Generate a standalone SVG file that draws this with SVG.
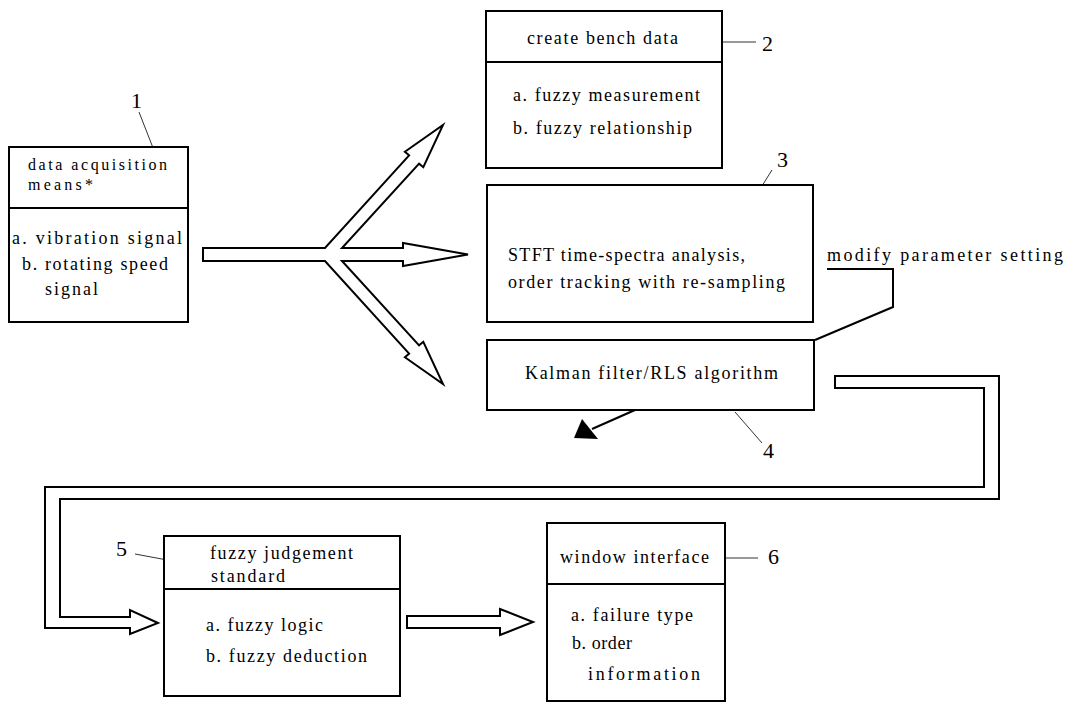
<svg xmlns="http://www.w3.org/2000/svg" width="1068" height="704" viewBox="0 0 1068 704">
<style>
.box{fill:#fff;stroke:#000;stroke-width:2}
.div{stroke:#000;stroke-width:2;fill:none}
.t{font-family:"Liberation Serif",serif;font-size:18px;fill:#000}
.s{font-size:16px}
.num{font-family:"Liberation Serif",serif;font-size:22px;fill:#000}
.lead{stroke:#333;stroke-width:1;fill:none}
.fat{fill:#fff;stroke:#000;stroke-width:2;stroke-linejoin:miter}
.ln{stroke:#000;stroke-width:2;fill:none}
</style>
<rect width="1068" height="704" fill="#fff"/>

<g id="connectors">
<path class="fat" d="M203,248 L325,248 L409.1,155.3 L404.9,151.8 L443,125 L423.3,167.2 L419.1,163.7 L342,248 L403,248 L403,243 L468,254.5 L403,266 L403,261 L342,261 L419.1,345.3 L423.3,341.8 L443,384 L404.9,357.2 L409.1,353.7 L325,261 L203,261 Z"/>
<path class="fat" d="M835,376 L999,376 L999,499 L60,499 L60,617 L130,617 L130,610 L158,623 L130,634 L130,628 L45,628 L45,487 L984,487 L984,388 L835,388 Z"/>
<path class="fat" d="M407,616 L500,616 L500,609 L533,622 L500,635 L500,628 L407,628 Z"/>
<polyline class="ln" points="827,269 893,269 893,307 815,340"/>
<line class="ln" x1="635" y1="410" x2="592" y2="429"/>
<path d="M574,438 L582,419 L598,439 Z" fill="#000"/>
<line class="lead" x1="139" y1="112" x2="155" y2="153"/>
<line class="lead" x1="712" y1="42" x2="756" y2="42"/>
<line class="lead" x1="772" y1="170" x2="750" y2="205"/>
<line class="lead" x1="735" y1="412" x2="762" y2="443"/>
<line class="lead" x1="135" y1="554" x2="178" y2="562"/>
<line class="lead" x1="710" y1="558" x2="758" y2="558"/>
</g>

<g id="node1">
<rect class="box" x="9" y="147" width="179" height="175"/>
<line class="div" x1="9" y1="208" x2="188" y2="208"/>
<text class="t s" x="28" y="170" textLength="139" lengthAdjust="spacing">data acquisition</text>
<text class="t s" x="28" y="190" textLength="65" lengthAdjust="spacing">means*</text>
<text class="t" x="12" y="244" textLength="170" lengthAdjust="spacing">a. vibration signal</text>
<text class="t" x="22" y="270" textLength="146" lengthAdjust="spacing">b. rotating speed</text>
<text class="t" x="45" y="295" textLength="53" lengthAdjust="spacing">signal</text>
<text class="num" x="131" y="108">1</text>
</g>

<g id="node2">
<rect class="box" x="486" y="11" width="236" height="157"/>
<line class="div" x1="486" y1="62" x2="722" y2="62"/>
<text class="t" x="527" y="44" textLength="151" lengthAdjust="spacing">create bench data</text>
<text class="t" x="513" y="101" textLength="187" lengthAdjust="spacing">a. fuzzy measurement</text>
<text class="t" x="513" y="134" textLength="179" lengthAdjust="spacing">b. fuzzy relationship</text>
<text class="num" x="762" y="51">2</text>
</g>

<g id="node3">
<rect class="box" x="487" y="185" width="326" height="137"/>
<text class="t" x="508" y="261" textLength="237" lengthAdjust="spacing">STFT time-spectra analysis,</text>
<text class="t" x="508" y="288" textLength="277" lengthAdjust="spacing">order tracking with re-sampling</text>
<text class="t" x="827" y="261" textLength="236" lengthAdjust="spacing">modify parameter setting</text>
<text class="num" x="777" y="167">3</text>
</g>

<g id="node4">
<rect class="box" x="487" y="340" width="327" height="70"/>
<text class="t" x="525" y="379" textLength="253" lengthAdjust="spacing">Kalman filter/RLS algorithm</text>
<text class="num" x="763" y="458">4</text>
</g>

<g id="node5">
<rect class="box" x="164" y="536" width="236" height="160"/>
<line class="div" x1="164" y1="589" x2="400" y2="589"/>
<text class="t" x="210" y="559" textLength="143" lengthAdjust="spacing">fuzzy judgement</text>
<text class="t" x="211" y="582" textLength="74" lengthAdjust="spacing">standard</text>
<text class="t" x="206" y="631" textLength="117" lengthAdjust="spacing">a. fuzzy logic</text>
<text class="t" x="206" y="662" textLength="161" lengthAdjust="spacing">b. fuzzy deduction</text>
<text class="num" x="116" y="556">5</text>
</g>

<g id="node6">
<rect class="box" x="547" y="523" width="178" height="178"/>
<line class="div" x1="547" y1="584" x2="725" y2="584"/>
<text class="t" x="560" y="563" textLength="149" lengthAdjust="spacing">window interface</text>
<text class="t" x="571" y="621" textLength="122" lengthAdjust="spacing">a. failure type</text>
<text class="t" x="572" y="649" textLength="60" lengthAdjust="spacing">b. order</text>
<text class="t" x="588" y="680" textLength="112" lengthAdjust="spacing">information</text>
<text class="num" x="768" y="564">6</text>
</g>
</svg>
